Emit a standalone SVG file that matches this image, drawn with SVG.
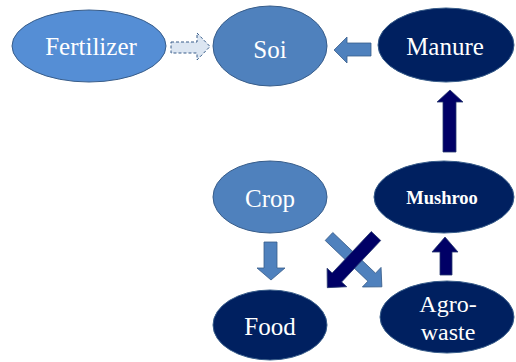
<svg xmlns="http://www.w3.org/2000/svg" width="516" height="362" viewBox="0 0 516 362">
<style>
.n{stroke:#385d8a;stroke-width:1}
text{fill:#ffffff;font-family:'Liberation Serif','Times New Roman',serif;font-size:25px;text-anchor:middle}
.light{fill:#4f81bd;stroke:#385d8a;stroke-width:0.8}
.dark{fill:#000066;stroke:#2a3a70;stroke-width:0.8}
</style>
<rect width="516" height="362" fill="#fff"/>
<g id="connectors">
<path d="M171,42 H197 V33 L210,46.5 L197,60 V53 H171 Z" fill="#dce6f2" stroke="#385d8a" stroke-width="1" stroke-dasharray="3,2"/>
<path class="light" d="M371,43 H347 V37 L334,50 L347,63 V56 H371 Z"/>
<path class="dark" d="M443,152 V102 H437 L450,90 L463,102 H456 V152 Z"/>
<path class="light" d="M264,242 H277 V268 H285 L271,280 L257,268 H264 Z"/>
<path class="dark" d="M440,275 V252 H432 L445,237 L458,252 H452 V275 Z"/>
<path class="light" transform="translate(329,236.5) rotate(43.6)" d="M0,-5.5 H59 V-13.5 L73,0 L59,13.5 V5.5 H0 Z"/>
<path class="dark" transform="translate(376,236) rotate(133.3)" d="M0,-6.5 H57 V-13.5 L71,0 L57,13.5 V6.5 H0 Z"/>
</g>
<g id="fertilizer"><ellipse class="n" cx="89" cy="46" rx="77" ry="36" fill="#558ed5"/><text x="91" y="55">Fertilizer</text></g>
<g id="soi"><ellipse class="n" cx="270" cy="46" rx="57" ry="40" fill="#4f81bd"/><text x="270" y="58">Soi</text></g>
<g id="manure"><ellipse class="n" cx="446" cy="45" rx="68" ry="37" fill="#002060"/><text x="445" y="55">Manure</text></g>
<g id="crop"><ellipse class="n" cx="270" cy="197" rx="57" ry="36" fill="#4f81bd"/><text x="270" y="207">Crop</text></g>
<g id="mushroo"><ellipse class="n" cx="444" cy="197" rx="70" ry="36" fill="#002060"/><text x="442" y="204" font-weight="bold" style="font-size:18.5px">Mushroo</text></g>
<g id="food"><ellipse class="n" cx="270" cy="325" rx="57" ry="35" fill="#002060"/><text x="270" y="335">Food</text></g>
<g id="agrowaste"><ellipse class="n" cx="447" cy="317" rx="67" ry="36" fill="#002060"/><text x="448" y="312" style="font-size:24px">Agro-</text><text x="448" y="340" style="font-size:24px">waste</text></g>
</svg>
